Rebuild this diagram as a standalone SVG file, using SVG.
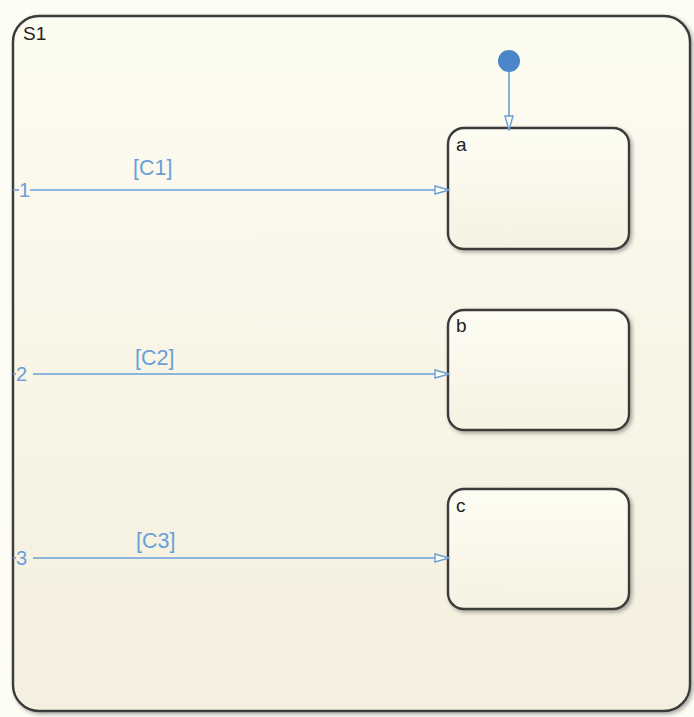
<svg xmlns="http://www.w3.org/2000/svg" width="694" height="717" viewBox="0 0 694 717">
<defs>
<linearGradient id="gOuter" x1="0" y1="0" x2="0" y2="1">
<stop offset="0" stop-color="#fdfcf1"/>
<stop offset="1" stop-color="#f4efde"/>
</linearGradient>
<linearGradient id="gState" x1="0" y1="0" x2="0" y2="1">
<stop offset="0" stop-color="#fefdf3"/>
<stop offset="1" stop-color="#f6f2e2"/>
</linearGradient>
<filter id="shadow" x="-10%" y="-10%" width="130%" height="130%">
<feGaussianBlur in="SourceAlpha" stdDeviation="2"/>
<feOffset dx="2" dy="2" result="b"/>
<feComponentTransfer><feFuncA type="linear" slope="0.35"/></feComponentTransfer>
<feMerge><feMergeNode/><feMergeNode in="SourceGraphic"/></feMerge>
</filter>
<marker id="arr" viewBox="0 0 16 10" refX="15" refY="5" markerWidth="16" markerHeight="10" markerUnits="userSpaceOnUse" orient="auto">
<path d="M1,1 L15,5 L1,9 Z" fill="#fdfcf1" stroke="#6a9fd8" stroke-width="1.4"/>
</marker>
</defs>
<style>
.state{fill:url(#gState);stroke:#3a3a3a;stroke-width:2.4;filter:url(#shadow)}
.lbl{font-family:"Liberation Sans",Arial,sans-serif;font-size:19px;fill:#222}
.tr{stroke:#6a9fd8;stroke-width:1.6;fill:none;marker-end:url(#arr)}
.tl{font-family:"Liberation Sans",Arial,sans-serif;font-size:21.5px;fill:#6a9fd8}
.num{font-family:"Liberation Sans",Arial,sans-serif;font-size:20px;fill:#6a9fd8}
</style>
<rect width="694" height="717" fill="#fdfcf5"/>
<g id="S1">
<rect x="13" y="16" width="677" height="695" rx="26" ry="26" fill="url(#gOuter)" stroke="#3a3a3a" stroke-width="2.4" filter="url(#shadow)"/>
<text class="lbl" x="23" y="40">S1</text>
</g>
<g id="a">
<rect class="state" x="448" y="128" width="181" height="121" rx="16" ry="16"/>
<text class="lbl" x="456" y="151">a</text>
</g>
<g id="b">
<rect class="state" x="448" y="310" width="181" height="120" rx="16" ry="16"/>
<text class="lbl" x="456" y="332">b</text>
</g>
<g id="c">
<rect class="state" x="448" y="489" width="181" height="120" rx="16" ry="16"/>
<text class="lbl" x="456" y="512">c</text>
</g>
<g id="connectors">
<circle cx="509" cy="61" r="11" fill="#4a86c8"/>
<line class="tr" x1="509" y1="72" x2="509" y2="130"/>
<line class="tr" x1="30" y1="190" x2="449" y2="190"/>
<line class="tr" x1="33" y1="374" x2="449" y2="374"/>
<line class="tr" x1="33" y1="558" x2="449" y2="558"/>
<line x1="13" y1="190" x2="19" y2="190" stroke="#6a9fd8" stroke-width="1.6"/>
<line x1="13" y1="374" x2="16" y2="374" stroke="#6a9fd8" stroke-width="1.6"/>
<line x1="13" y1="558" x2="16" y2="558" stroke="#6a9fd8" stroke-width="1.6"/>
<text class="num" x="19" y="197">1</text>
<text class="num" x="16" y="381">2</text>
<text class="num" x="16" y="565">3</text>
<text class="tl" x="133" y="175">[C1]</text>
<text class="tl" x="135" y="365">[C2]</text>
<text class="tl" x="136" y="548">[C3]</text>
</g>
</svg>
